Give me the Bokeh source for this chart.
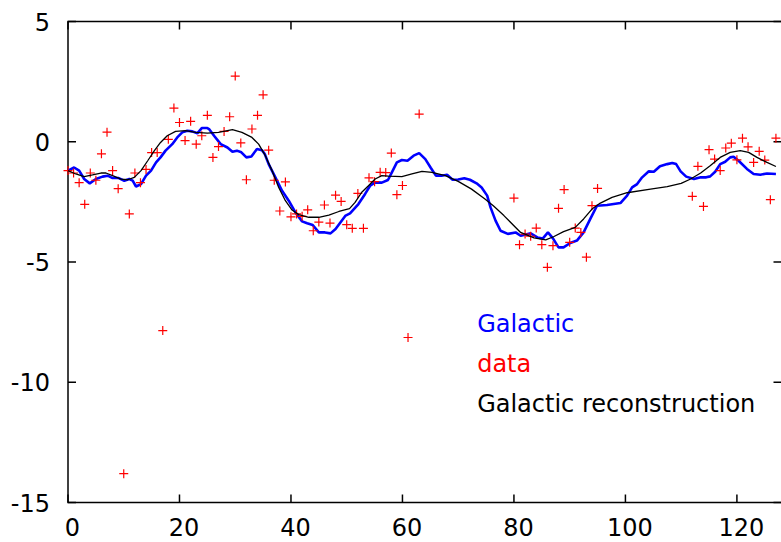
import math
from bokeh.plotting import figure
from bokeh.models import Range1d, Label
from bokeh.core.properties import value
from bokeh.embed import file_html
from bokeh.resources import INLINE

# ---- data ----
data_x = list(range(0, 62)) + [63] + list(range(80, 96)) + list(range(112, 128))
data_y = [-1.2, -1.3, -1.7, -2.6, -1.3, -1.6, -0.5, 0.4, -1.2, -1.95,
          -13.8, -3.0, -1.3, -1.7, -1.15, -0.45, -0.45, -7.85, 0.1, 1.4,
          0.8, 0.05, 0.85, -0.1, 0.25, 1.1, -0.65, -0.2, 0.43, 1.04,
          2.73, -0.05, -1.58, 0.53, 1.1, 1.95, -0.35, -1.6, -2.88, -1.67,
          -3.12, -3.0, -3.1, -2.83, -3.7, -3.34, -2.63, -3.38, -2.22, -2.48,
          -3.45, -3.6, -2.15, -3.6, -1.5, -1.66, -1.27, -1.28, -0.47, -2.2,
          -1.82, -8.14,
          1.15,
          -2.34, -4.28, -3.84, -3.93, -3.59, -4.28, -5.22, -4.32, -2.77, -1.99,
          -4.18, -3.59, -3.77, -4.8, -2.66, -1.94,
          -2.27, -1.02, -2.69, -0.33, -0.72, -1.2, -0.26, -0.06, -0.75, 0.15,
          -0.21, -0.86, -0.4, -0.76, -2.41, 0.15]

gal_x = [0, 1.1, 2, 2.9, 3.9, 5, 6.2, 7.1, 8, 9.1, 10.1, 11, 11.6, 12.2, 13.1,
         14, 14.9, 15.8, 16.6, 17.5, 18.7, 19.6, 20.5, 21.4, 22.3, 23.2, 24, 25,
         25.3, 26.2, 27.4, 28.6, 29.5, 30.3, 31.1, 32, 32.9, 33.9, 34.8, 35.3,
         36, 37.2, 38.4, 39.6, 40.8, 42, 42.9, 43.9, 45, 46.1, 47.1, 48, 48.9,
         49.8, 50.6, 52.1, 53.3, 54.2, 55.1, 56.3, 57.4, 58.1, 59, 59.9, 60.9,
         62, 63, 64.1, 65.1, 66, 67, 68, 69, 70, 71.1, 72.1, 73.3, 74.2, 75.2,
         75.8, 76.7, 77.6, 78.9, 80.3, 81.2, 83, 84.2, 85.2, 86.1, 87, 88, 88.9,
         90.1, 91.3, 92.5, 93.7, 94.9, 96.7, 99.1, 100.3, 101.2, 102.1, 103,
         104.2, 105.1, 106.2, 107.5, 108.4, 109.1, 109.9, 110.9, 112.3, 113.5,
         114.5, 115.2, 116.1, 117, 117.9, 118.8, 119.4, 120.3, 121.8, 123,
         124.2, 125.4, 127]
gal_y = [-1.2, -1.07, -1.2, -1.55, -1.73, -1.55, -1.45, -1.41, -1.51, -1.51,
         -1.62, -1.55, -1.62, -1.86, -1.76, -1.41, -1.2, -0.86, -0.65, -0.37,
         -0.1, 0.18, 0.39, 0.46, 0.43, 0.35, 0.57, 0.57, 0.53, 0.25, -0.1,
         -0.24, -0.42, -0.37, -0.44, -0.65, -0.61, -0.3, -0.35, -0.51, -0.93,
         -1.48, -2.04, -2.45, -2.94, -3.31, -3.39, -3.46, -3.77, -3.77, -3.81,
         -3.63, -3.35, -3.07, -2.98, -2.59, -2.17, -1.83, -1.69, -1.7, -1.59,
         -1.27, -0.86, -0.76, -0.79, -0.58, -0.47, -0.72, -1.09, -1.41, -1.41,
         -1.37, -1.58, -1.57, -1.52, -1.58, -1.73, -1.9, -2.24, -2.73, -3.28,
         -3.7, -3.83, -3.77, -3.91, -3.81, -3.98, -4.02, -3.77, -4.02, -4.39,
         -4.39, -4.21, -4.11, -3.77, -3.21, -2.66, -2.63, -2.55, -2.24, -1.9,
         -1.76, -1.48, -1.23, -1.25, -1.02, -0.93, -0.88, -0.93, -1.23, -1.45,
         -1.55, -1.48, -1.48, -1.44, -1.25, -0.93, -0.83, -0.65, -0.62, -0.79,
         -1.13, -1.34, -1.37, -1.32, -1.34]

rec_x = [0, 1.4, 2.9, 4.4, 5.9, 6.8, 8, 9.5, 10.7, 11.9, 13.1, 14.3, 15.5,
         16.6, 17.8, 19.3, 21.1, 22.9, 25, 27, 29.5, 31.2, 33, 34.2, 35.4, 36.6,
         37.8, 39, 40.2, 41.4, 43.2, 45, 46.8, 48.6, 50.5, 51.5, 52.7, 53.9,
         55.1, 56.3, 57.5, 59.9, 61.7, 63.5, 65.3, 67.7, 70, 72.4, 74.8, 76.3,
         78.2, 81.2, 83.6, 85.7, 87.1, 88.9, 91, 92.5, 94, 95.5, 97.6, 100.3,
         104.5, 107.5, 110, 111.7, 113.5, 115.2, 117, 118.8, 120.6, 122.1,
         123.6, 125.4, 127]
rec_y = [-1.2, -1.34, -1.45, -1.38, -1.3, -1.3, -1.41, -1.55, -1.58, -1.48,
         -1.2, -0.79, -0.37, -0.03, 0.25, 0.43, 0.46, 0.39, 0.36, 0.39, 0.5,
         0.39, 0.18, -0.1, -0.58, -1.2, -1.9, -2.45, -2.84, -3.03, -3.14,
         -3.14, -3.05, -2.9, -2.78, -2.52, -2.1, -1.83, -1.55, -1.41, -1.43,
         -1.45, -1.34, -1.23, -1.27, -1.41, -1.65, -1.97, -2.38, -2.66, -3.07,
         -3.77, -4.0, -4.08, -3.95, -3.74, -3.56, -3.21, -2.8, -2.55, -2.31,
         -2.12, -1.97, -1.87, -1.73, -1.55, -1.3, -1.0, -0.65, -0.44, -0.37,
         -0.44, -0.65, -0.86, -1.03]

x_ticks = [0, 20, 40, 60, 80, 100, 120]
x_tick_labels = ["0", "20", "40", "60", "80", "100", "120"]
y_ticks = [-15, -10, -5, 0, 5]
y_tick_labels = ["-15", "-10", "-5", "0", "5"]
legend_labels = ["Galactic", "data", "Galactic reconstruction"]
legend_colors = ["#0000ff", "#ff0000", "#000000"]

X_MIN, X_MAX = 0, 128
Y_MIN, Y_MAX = -15, 5

# ---- layout (pixels) ----
W, H = 781, 542
ML, MT, MB = 67.5, 21, 40          # margins around the plotting box
FONT = "DejaVu Sans"
FS = "24px"
px_x = (W - ML) / (X_MAX - X_MIN)
px_y = (H - MT - MB) / (Y_MAX - Y_MIN)

p = figure(width=W, height=H, output_backend="svg", toolbar_location=None,
           x_range=Range1d(X_MIN - ML / px_x, X_MAX),
           y_range=Range1d(Y_MIN - MB / px_y, Y_MAX + MT / px_y),
           x_axis_location=None, y_axis_location=None, min_border=0)
p.outline_line_color = None
p.xgrid.visible = False
p.ygrid.visible = False
p.background_fill_color = "white"
p.border_fill_color = "white"

# box (top, left, bottom; the right side lies at the page edge)
p.line([X_MAX, X_MIN, X_MIN, X_MAX], [Y_MAX, Y_MAX, Y_MIN, Y_MIN],
       line_color="black", line_width=1.5, line_join="miter")

# inward major ticks on all four sides
nx, ny = len(x_ticks), len(y_ticks)
p.ray(x_ticks, [Y_MIN] * nx, length=8, length_units="screen",
      angle=math.pi / 2, line_color="black", line_width=1.5)
p.ray(x_ticks, [Y_MAX] * nx, length=8, length_units="screen",
      angle=-math.pi / 2, line_color="black", line_width=1.5)
p.ray([X_MIN] * ny, y_ticks, length=8, length_units="screen",
      angle=0, line_color="black", line_width=1.5)
p.ray([X_MAX] * ny, y_ticks, length=8, length_units="screen",
      angle=math.pi, line_color="black", line_width=1.5)

# tick labels
p.text(x=x_ticks, y=[Y_MIN] * nx, text=x_tick_labels, x_offset=4.5,
       y_offset=24.5, text_align="center", text_baseline="middle",
       text_font=value(FONT), text_font_size=FS, text_color="black")
p.text(x=[X_MIN] * ny, y=y_ticks, text=y_tick_labels, x_offset=-18,
       y_offset=0, text_align="right", text_baseline="middle",
       text_font=value(FONT), text_font_size=FS, text_color="black")

# series
p.line(gal_x, gal_y, line_color=legend_colors[0], line_width=2.6)
p.scatter(data_x, data_y, marker="cross", size=9, line_color=legend_colors[1],
          line_width=1.2)
p.line(rec_x, rec_y, line_color=legend_colors[2], line_width=1.3)

# key (coloured texts only)
legend_y = [-7.58, -9.24, -10.91]
for txt, col, ly in zip(legend_labels, legend_colors, legend_y):
    p.add_layout(Label(x=73.4, y=ly, text=txt, text_color=col,
                       text_font=FONT, text_font_size=FS,
                       text_baseline="alphabetic", text_align="left"))

open("out.html", "w").write(file_html(p, INLINE))
